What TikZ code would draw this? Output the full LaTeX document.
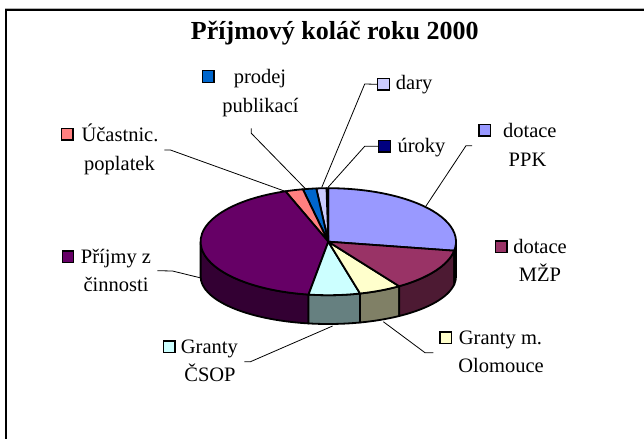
\documentclass[tikz,border=0pt]{standalone}
\usepackage{fontspec}
\setmainfont{Liberation Serif}
\usetikzlibrary{calc}
\definecolor{cPPK}{HTML}{9999FF}
\definecolor{cPPKs}{HTML}{4D4D80}
\definecolor{cUroky}{HTML}{000080}
\definecolor{cDary}{HTML}{CCCCFF}
\definecolor{cProdej}{HTML}{0066CC}
\definecolor{cUcast}{HTML}{FF8080}
\definecolor{cPrijmy}{HTML}{660066}
\definecolor{cPrijmys}{HTML}{330033}
\definecolor{cCSOP}{HTML}{CCFFFF}
\definecolor{cCSOPs}{HTML}{668080}
\definecolor{cOlom}{HTML}{FFFFCC}
\definecolor{cOloms}{HTML}{808066}
\definecolor{cMZP}{HTML}{993366}
\definecolor{cMZPs}{HTML}{4D1A33}
\newcommand\pieTop[3]{\filldraw[slice, fill=#3] (Ct) -- ($(Ct)+(#1:127.7 and 53.5)$) arc[start angle=#1, end angle=#2, x radius=127.7, y radius=53.5] -- cycle;}
\newcommand\pieSide[3]{\filldraw[slice, fill=#3] ($(Ct)+(#1:127.7 and 53.5)$) arc[start angle=#1, end angle=#2, x radius=127.7, y radius=53.5] -- ($(Cb)+(#2:127.7 and 47.5)$) arc[start angle=#2, end angle=#1, x radius=127.7, y radius=47.5] -- cycle;}
\begin{document}
\begin{tikzpicture}[x=1pt,y=1pt,
  lbl/.style={font=\fontsize{20.5}{24}\selectfont, inner sep=0pt, anchor=base},
  key/.style={draw=black, line width=1.4pt, minimum size=11.5pt, inner sep=0pt},
  slice/.style={draw=black, line width=1.8pt, line join=round},
  leader/.style={draw=black, line width=0.8pt}]
\useasboundingbox (0,0) rectangle (644,439);
\fill[white] (0,0) rectangle (644,439);
% frame
\draw[gray!60, line width=1pt] (5,430.5) -- (644,430.5);
\draw[black, line width=1.7pt] (5.9,429.1) -- (644,429.1);
\draw[black, line width=1.7pt] (5.9,429.9) -- (5.9,0);
% title
\node[font=\bfseries\fontsize{26}{30}\selectfont, anchor=base, inner sep=0pt] (title) at (334.8,399.5) {Příjmový koláč roku 2000};
% pie
\coordinate (Ct) at (328.3,197.3);
\coordinate (Cb) at (328.3,162.5);
\pieSide{180}{261.1}{cPrijmys}
\pieSide{261.1}{284.4}{cCSOPs}
\pieSide{284.4}{303.7}{cOloms}
\pieSide{303.7}{350.3}{cMZPs}
\pieSide{350.3}{360}{cPPKs}
\pieTop{-9.7}{90}{cPPK}
\pieTop{90}{90.8}{cUroky}
\pieTop{90.8}{95.4}{cDary}
\pieTop{95.4}{101.5}{cProdej}
\pieTop{101.5}{109.6}{cUcast}
\pieTop{109.6}{261.1}{cPrijmy}
\pieTop{261.1}{284.4}{cCSOP}
\pieTop{284.4}{303.7}{cOlom}
\pieTop{303.7}{350.3}{cMZP}
% legend keys
\node[key, fill=cProdej] (kProdej) at (208.3,362.5) {};
\node[key, fill=cDary] (kDary) at (383.5,354.7) {};
\node[key, fill=cUroky] (kUroky) at (384.5,292.7) {};
\node[key, fill=cPPK] (kPPK) at (484.6,308.7) {};
\node[key, fill=cUcast] (kUcast) at (67.1,304.7) {};
\node[key, fill=cPrijmy] (kPrijmy) at (68,182.2) {};
\node[key, fill=cMZP] (kMZP) at (501.2,192.3) {};
\node[key, fill=cCSOP] (kCSOP) at (169.3,92.3) {};
\node[key, fill=cOlom] (kOlom) at (445.8,101.3) {};
% labels
\node[lbl] (tProdej1) at (260,355.7) {prodej};
\node[lbl] (tProdej2) at (260.4,326) {publikací};
\node[lbl] (tDary) at (414.2,349.7) {dary};
\node[lbl] (tUroky) at (421.5,286.3) {úroky};
\node[lbl] (tPPK1) at (529.8,301.3) {dotace};
\node[lbl] (tPPK2) at (527.5,272.3) {PPK};
\node[lbl] (tUcast1) at (120,297.5) {Účastnic.};
\node[lbl] (tUcast2) at (119.5,268.8) {poplatek};
\node[lbl] (tPrijmy1) at (116,175.7) {Příjmy z};
\node[lbl] (tPrijmy2) at (116,147.3) {činnosti};
\node[lbl] (tMZP1) at (540,185.7) {dotace};
\node[lbl] (tMZP2) at (540,157.3) {MŽP};
\node[lbl] (tCSOP1) at (209.4,85.7) {Granty};
\node[lbl] (tCSOP2) at (210,57.3) {ČSOP};
\node[lbl] (tOlom1) at (500.5,95) {Granty m.};
\node[lbl] (tOlom2) at (501,66.3) {Olomouce};
% leader coordinates
\coordinate (lUcastA) at (164.3,289);
\coordinate (lUcastB) at (170.4,289);
\coordinate (lUcastC) at (287,247);
\coordinate (lProdejA) at (251.3,310.7);
\coordinate (lProdejB) at (251.3,305.7);
\coordinate (lProdejC) at (305,250.7);
\coordinate (lDaryB) at (364.7,355);
\coordinate (lDaryC) at (321.7,251.5);
\coordinate (lUrokyB) at (364.7,292.7);
\coordinate (lUrokyC) at (328.3,252);
\coordinate (lPPKA) at (472,293.3);
\coordinate (lPPKB) at (466,293.3);
\coordinate (lPPKC) at (426,233);
\coordinate (lPrijmyA) at (157.3,168.3);
\coordinate (lPrijmyB) at (172.5,168);
\coordinate (lPrijmyC) at (201,161);
\coordinate (lCSOPA) at (244.4,77.3);
\coordinate (lCSOPB) at (250.5,77.3);
\coordinate (lCSOPC) at (332.6,113);
\coordinate (lOlomA) at (433.3,86.3);
\coordinate (lOlomB) at (425,86.3);
\coordinate (lOlomC) at (383.3,117.3);
% leaders
\draw[leader] (lUcastA) -- (lUcastB) -- (lUcastC);
\draw[leader] (lProdejA) -- (lProdejB) -- (lProdejC);
\draw[leader] (kDary.west) -- (lDaryB) -- (lDaryC);
\draw[leader] (kUroky.west) -- (lUrokyB) -- (lUrokyC);
\draw[leader] (lPPKA) -- (lPPKB) -- (lPPKC);
\draw[leader] (lPrijmyA) -- (lPrijmyB) -- (lPrijmyC);
\draw[leader] (lCSOPA) -- (lCSOPB) -- (lCSOPC);
\draw[leader] (lOlomA) -- (lOlomB) -- (lOlomC);
\end{tikzpicture}
\end{document}
